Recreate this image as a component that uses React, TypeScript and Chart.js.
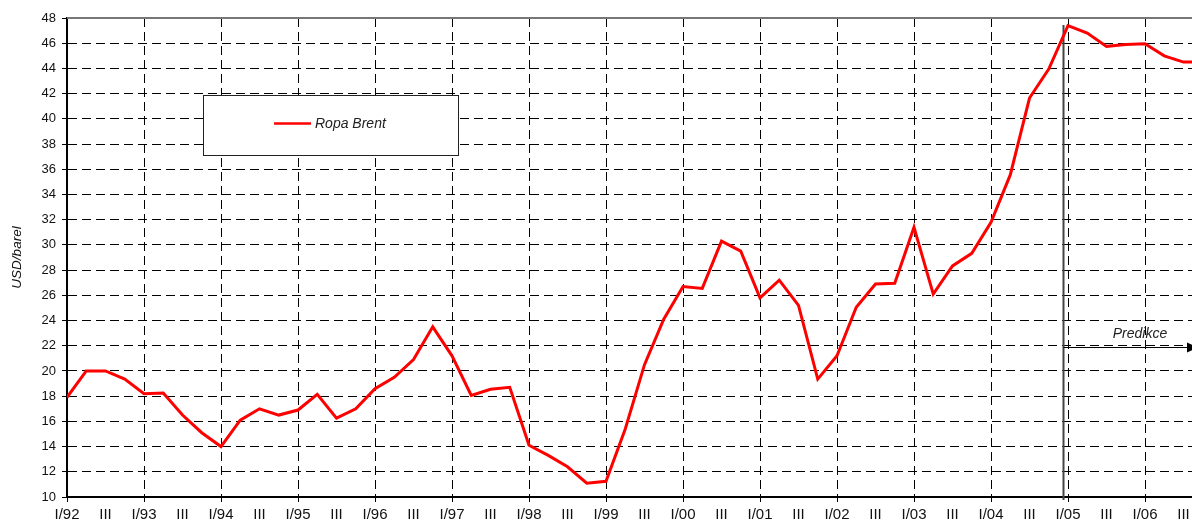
import React, { useEffect, useRef } from 'react';
import { Chart, registerables } from 'chart.js';

Chart.register(...registerables);

// ---------- data ----------
const years = ['92', '93', '94', '95', '96', '97', '98', '99', '00', '01', '02', '03', '04', '05', '06'];
const quarterNames = ['I', 'II', 'III', 'IV'];
const brent = [
  17.9, 20.0, 20.0, 19.35,
  18.2, 18.25, 16.5, 15.1,
  14.0, 16.1, 17.0, 16.5,
  16.9, 18.15, 16.25, 17.0,
  18.6, 19.5, 20.9, 23.5,
  21.2, 18.05, 18.55, 18.7,
  14.1, 13.3, 12.4, 11.1,
  11.25, 15.4, 20.5, 24.1,
  26.7, 26.55, 30.3, 29.5,
  25.8, 27.2, 25.2, 19.35,
  21.2, 25.05, 26.9, 26.95,
  31.4, 26.1, 28.33, 29.33,
  31.8, 35.55, 41.65, 43.95,
  47.4, 46.8, 45.75, 45.9,
  45.95, 45.0, 44.5, 44.5,
];
const seriesLabel = 'Ropa Brent';
const yTitle = 'USD/barel';
const forecastLabel = 'Predikce';
const forecastStart = 51.75; // position between IV/04 and I/05
const yMin = 10;
const yMax = 48;
const yStep = 2;

const quarterLabels: string[] = years.flatMap((y) =>
  quarterNames.map((q, k) => (k === 0 ? `${q}/${y}` : q))
);

const FONT = "'Liberation Sans', Arial, Helvetica, sans-serif";

const framePlugin = {
  id: 'frameAndNotes',
  beforeDatasetsDraw(chart: any) {
    const { ctx, chartArea, scales } = chart;
    const xs = scales.x;
    const ys = scales.y;
    ctx.save();
    // top frame line
    ctx.strokeStyle = '#777';
    ctx.lineWidth = 2;
    ctx.beginPath();
    ctx.moveTo(chartArea.left, chartArea.top);
    ctx.lineTo(chartArea.right + 10, chartArea.top);
    ctx.stroke();

    // forecast vertical line
    const fx = Math.round(xs.getPixelForValue(forecastStart)) + 0.5;
    const fyTop = ys.getPixelForValue(47.45);
    ctx.strokeStyle = '#444';
    ctx.lineWidth = 2;
    ctx.beginPath();
    ctx.moveTo(fx, fyTop);
    ctx.lineTo(fx, chartArea.bottom + 3);
    ctx.stroke();

    // forecast arrow
    const ay = Math.round(ys.getPixelForValue(21.9)) + 0.5;
    const tipX = 1198;
    ctx.strokeStyle = '#000';
    ctx.lineWidth = 1;
    ctx.beginPath();
    ctx.moveTo(fx, ay);
    ctx.lineTo(tipX - 8, ay);
    ctx.stroke();
    ctx.fillStyle = '#000';
    ctx.beginPath();
    ctx.moveTo(tipX, ay);
    ctx.lineTo(tipX - 11, ay - 5);
    ctx.lineTo(tipX - 11, ay + 5);
    ctx.closePath();
    ctx.fill();

    ctx.fillStyle = '#222';
    ctx.font = `italic 14px ${FONT}`;
    ctx.textAlign = 'center';
    ctx.textBaseline = 'alphabetic';
    ctx.fillText(forecastLabel, 1140, ay - 10);

    // legend box
    const lx = 203.5;
    const ly = 95.5;
    const lw = 255;
    const lh = 60;
    ctx.fillStyle = '#fff';
    ctx.fillRect(lx, ly, lw, lh);
    ctx.strokeStyle = '#222';
    ctx.lineWidth = 1;
    ctx.strokeRect(lx, ly, lw, lh);
    const ds = chart.data.datasets[0];
    ctx.strokeStyle = ds.borderColor;
    ctx.lineWidth = 2.5;
    ctx.beginPath();
    ctx.moveTo(274, 123.5);
    ctx.lineTo(311, 123.5);
    ctx.stroke();
    ctx.fillStyle = '#222';
    ctx.font = `italic 14px ${FONT}`;
    ctx.textAlign = 'left';
    ctx.textBaseline = 'middle';
    ctx.fillText(ds.label, 315, 124);
    ctx.restore();
  },
};

export default function App() {
  const canvasRef = useRef<HTMLCanvasElement | null>(null);

  useEffect(() => {
    if (!canvasRef.current) return;
    Chart.defaults.font.family = FONT;
    const chart = new Chart(canvasRef.current, {
      type: 'line',
      data: {
        datasets: [
          {
            label: seriesLabel,
            data: brent.map((v, i) => ({ x: i, y: v })),
            borderColor: '#ff0000',
            backgroundColor: '#ff0000',
            borderWidth: 3,
            pointRadius: 0,
            tension: 0,
            fill: false,
          },
        ],
      },
      options: {
        responsive: false,
        animation: false,
        layout: { padding: { top: 18, right: 7.25, left: 0, bottom: 0 } },
        plugins: {
          legend: { display: false },
          tooltip: { enabled: false },
        },
        scales: {
          x: {
            type: 'linear',
            min: 0,
            max: quarterLabels.length - 1,
            afterBuildTicks: (s: any) => {
              s.ticks = quarterLabels
                .map((_, i) => i)
                .filter((i) => i % 2 === 0)
                .map((v) => ({ value: v }));
            },
            afterFit: (s: any) => {
              s.height = 30;
            },
            ticks: {
              autoSkip: false,
              maxRotation: 0,
              minRotation: 0,
              padding: 4,
              color: '#111',
              font: { size: 15 },
              callback: (v: any) => quarterLabels[v] ?? '',
            },
            grid: {
              color: (c: any) => (c.tick && c.tick.value % 4 === 0 ? '#000' : 'rgba(0,0,0,0)'),
              tickColor: (c: any) => (c.tick && c.tick.value % 4 === 0 ? '#000' : 'rgba(0,0,0,0)'),
              tickLength: 5,
              lineWidth: 1,
            },
            border: { display: true, color: '#000', width: 2, dash: [9, 5] },
          },
          y: {
            min: yMin,
            max: yMax,
            afterFit: (s: any) => {
              s.width = 67;
            },
            ticks: {
              stepSize: yStep,
              padding: 6,
              color: '#111',
              font: { size: 13 },
            },
            grid: {
              color: '#000',
              tickColor: '#000',
              tickLength: 5,
              lineWidth: 1,
            },
            border: { display: true, color: '#000', width: 2, dash: [9, 5] },
            title: {
              display: true,
              text: yTitle,
              color: '#111',
              font: { size: 13.5, style: 'italic' },
              padding: { top: 9, bottom: 0 },
            },
          },
        },
      },
      plugins: [framePlugin],
    } as any);
    return () => chart.destroy();
  }, []);

  return (
    <div
      style={{
        position: 'fixed',
        left: 0,
        top: 0,
        width: 1192,
        height: 527,
        overflow: 'hidden',
        background: '#fff',
      }}
    >
      <canvas ref={canvasRef} width={1210} height={527} style={{ width: 1210, height: 527, display: 'block' }} />
    </div>
  );
}
